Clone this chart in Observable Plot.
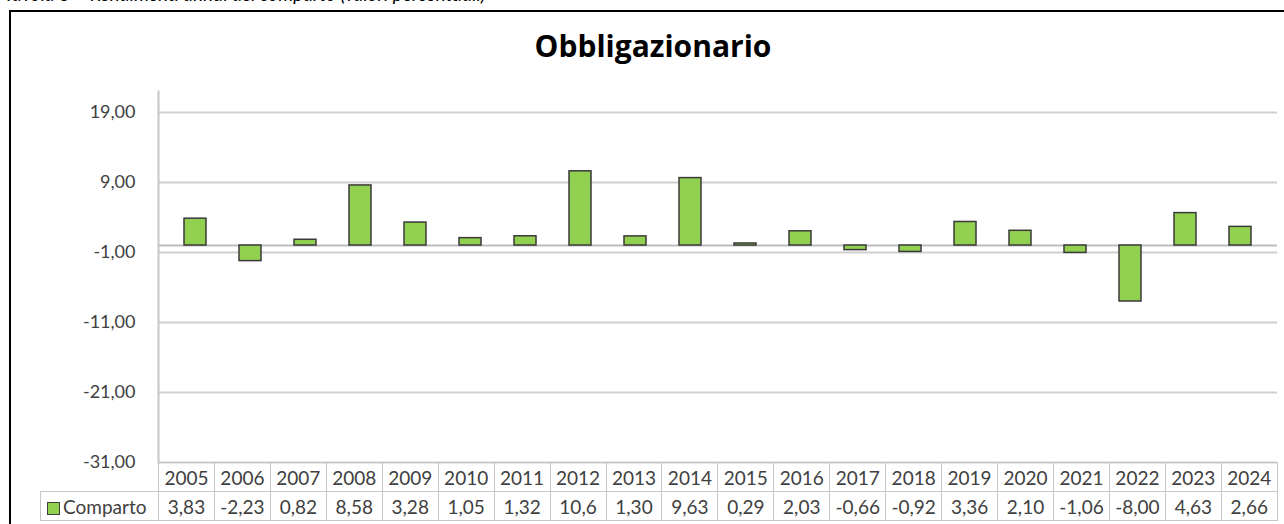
<!DOCTYPE html>
<html>
<head>
<meta charset="utf-8">
<script src="https://cdn.jsdelivr.net/npm/d3@7"></script>
<script src="https://cdn.jsdelivr.net/npm/@observablehq/plot@0.6"></script>
<style>
  html, body { margin: 0; padding: 0; background: #fff; overflow: hidden; }
  #wrap { position: relative; width: 1284px; height: 524px; overflow: hidden; font-family: Lato, "Open Sans", sans-serif; }
  .note { position: absolute; left: 4px; top: -18px; font-size: 19px; font-style: italic; color: #000; white-space: nowrap; }
  .box { position: absolute; left: 9px; top: 10px; width: 1320px; height: 600px; border: 2px solid #000; box-sizing: border-box; }
  .title { position: absolute; left: 453px; width: 400px; top: 25px; text-align: center; font-family: "Open Sans", sans-serif; font-size: 30px; font-weight: bold; color: #000; }
  #chart { position: absolute; left: 0; top: 0; }
  table.dt { position: absolute; left: 40px; top: 462px; border-collapse: collapse; table-layout: fixed; width: 1237px; font-size: 19px; color: #404040; }
  table.dt td { border: 1.5px solid #c6c6c6; height: 28px; padding: 0; text-align: center; white-space: nowrap; overflow: hidden; }
  table.dt td.blank { border: none; }
  table.dt td.lab { text-align: left; padding-left: 6px; }
  .sw { display: inline-block; width: 11px; height: 11px; background: #92d050; border: 1px solid #404040; vertical-align: -1px; margin-right: 3px; }
</style>
</head>
<body>
<div id="wrap">
  <div class="note">Tavola 3 – Rendimenti annui del comparto (valori percentuali)</div>
  <div class="box"></div>
  <div class="title">Obbligazionario</div>
  <div id="chart"></div>
</div>
<script>
const years = [2005, 2006, 2007, 2008, 2009, 2010, 2011, 2012, 2013, 2014, 2015, 2016, 2017, 2018, 2019, 2020, 2021, 2022, 2023, 2024];
const values = [3.83, -2.23, 0.82, 8.58, 3.28, 1.05, 1.32, 10.6, 1.30, 9.63, 0.29, 2.03, -0.66, -0.92, 3.36, 2.10, -1.06, -8.00, 4.63, 2.66];
const yTicks = [19, 9, -1, -11, -21, -31];
const seriesName = "Comparto";

const data = years.map((y, i) => ({year: String(y), value: values[i]}));
const fmtTick = d => d.toFixed(2).replace(".", ",");
const fmtVal = v => (Math.abs(v) >= 10 ? v.toFixed(1) : v.toFixed(2)).replace(".", ",");

const chart = Plot.plot({
  width: 1284,
  height: 524,
  marginLeft: 158,
  marginRight: 7,
  marginTop: 91,
  marginBottom: 62,
  style: {background: "transparent", fontFamily: "Lato, 'Open Sans', sans-serif", fontSize: "18px", color: "#404040"},
  x: {type: "band", domain: years.map(String), paddingInner: 0.6, paddingOuter: 0.3, axis: null},
  y: {domain: [-31, 22], axis: null},
  marks: [
    Plot.gridY(yTicks, {stroke: "#cfcfcf", strokeOpacity: 1, strokeWidth: 2}),
    Plot.frame({anchor: "left", stroke: "#c6c6c6", strokeWidth: 2}),
    Plot.ruleY([0], {stroke: "#bdbdbd", strokeWidth: 2}),
    Plot.barY(data, {x: "year", y: "value", fill: "#92d050", stroke: "#3a3a3a", strokeWidth: 1.5}),
    Plot.axisY(yTicks, {tickSize: 0, tickPadding: 23, tickFormat: fmtTick, label: null, fill: "#404040", fontSize: 18})
  ]
});
document.getElementById("chart").appendChild(chart);

// data table below the chart
const table = document.createElement("table");
table.className = "dt";
const colgroup = document.createElement("colgroup");
const c0 = document.createElement("col"); c0.style.width = "118px"; colgroup.appendChild(c0);
years.forEach(() => { const c = document.createElement("col"); c.style.width = (1119 / years.length) + "px"; colgroup.appendChild(c); });
table.appendChild(colgroup);
const tr1 = document.createElement("tr");
const b = document.createElement("td"); b.className = "blank"; tr1.appendChild(b);
years.forEach(y => { const td = document.createElement("td"); td.textContent = y; tr1.appendChild(td); });
const tr2 = document.createElement("tr");
const lab = document.createElement("td"); lab.className = "lab";
lab.innerHTML = '<span class="sw"></span>' + seriesName;
tr2.appendChild(lab);
values.forEach(v => { const td = document.createElement("td"); td.textContent = fmtVal(v); tr2.appendChild(td); });
table.appendChild(tr1); table.appendChild(tr2);
document.getElementById("wrap").appendChild(table);
</script>
</body>
</html>
